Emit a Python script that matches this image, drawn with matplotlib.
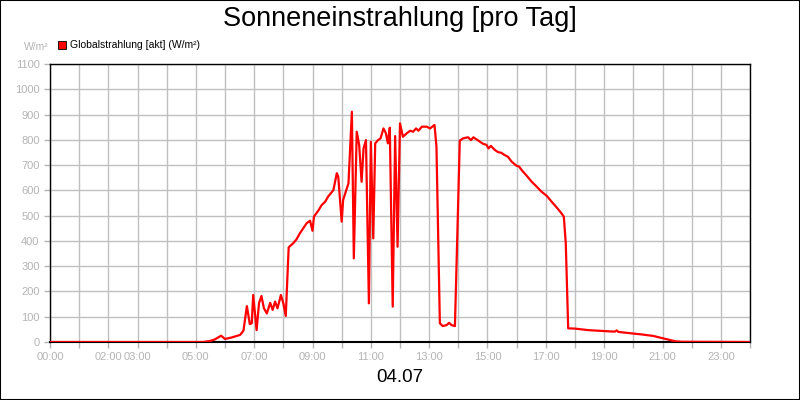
import numpy as np
import matplotlib
matplotlib.use('Agg')
import matplotlib.pyplot as plt
from matplotlib.patches import Rectangle

plt.rcParams['font.family'] = ['Liberation Sans', 'DejaVu Sans']

TITLE = 'Sonneneinstrahlung [pro Tag]'
DATE_LABEL = '04.07'
SERIES_LABEL = 'Globalstrahlung [akt] (W/m²)'
UNIT_LABEL = 'W/m²'

# time of day (HH:MM) and global radiation W/m2
times = ['00:00', '05:15', '05:29', '05:39', '05:52', '06:00', '06:14', '06:31', '06:38',
         '06:45', '06:51', '06:55', '06:58', '07:05', '07:10', '07:15', '07:20', '07:26',
         '07:33', '07:38', '07:43', '07:48', '07:55', '08:00', '08:05', '08:11', '08:20',
         '08:27', '08:34', '08:41', '08:48', '08:55', '09:00', '09:03', '09:12', '09:19',
         '09:26', '09:32', '09:43', '09:50', '09:53', '10:00', '10:03', '10:14', '10:21',
         '10:25', '10:31', '10:36', '10:41', '10:45', '10:50', '10:56', '11:00', '11:05',
         '11:09', '11:15', '11:20', '11:26', '11:31', '11:35', '11:39', '11:45', '11:50',
         '11:55', '12:00', '12:06', '12:14', '12:21', '12:27', '12:33', '12:38', '12:45',
         '12:55', '13:02', '13:11', '13:15', '13:22', '13:28', '13:36', '13:41', '13:46',
         '13:53', '14:03', '14:10', '14:20', '14:26', '14:31', '14:41', '14:51', '14:58',
         '15:02', '15:07', '15:15', '15:22', '15:28', '15:35', '15:42', '15:50', '16:00',
         '16:05', '16:10', '16:21', '16:31', '16:41', '16:51', '17:02', '17:12', '17:22',
         '17:31', '17:37', '17:41', '17:46', '18:00', '18:27', '19:02', '19:22', '19:26',
         '19:29', '19:57', '20:17', '20:41', '20:58', '21:15', '21:26', '21:39', '23:59']
radiation = [0, 0, 4, 10, 25, 12, 18, 28, 45,
             142, 71, 74, 186, 47, 154, 182, 134, 113,
             155, 127, 160, 133, 186, 153, 103, 375, 390,
             406, 430, 450, 470, 480, 440, 496, 520, 542,
             555, 575, 601, 668, 654, 476, 562, 628, 911,
             331, 832, 780, 634, 766, 799, 153, 792, 410,
             786, 799, 806, 845, 826, 786, 848, 140, 815,
             377, 865, 812, 826, 836, 832, 845, 836, 852,
             852, 845, 859, 773, 74, 63, 67, 76, 67,
             63, 797, 806, 810, 799, 810, 797, 784, 780,
             766, 776, 760, 751, 749, 740, 733, 713, 697,
             694, 681, 657, 634, 615, 595, 578, 555, 533,
             512, 496, 391, 54, 53, 47, 43, 41, 46,
             40, 34, 30, 24, 16, 8, 3, 1, 0]

x_labels = ['00:00', '02:00', '03:00', '05:00', '07:00', '09:00', '11:00',
            '13:00', '15:00', '17:00', '19:00', '21:00', '23:00']
y_ticks = list(range(0, 1101, 100))


def to_hours(t):
    h, m = t.split(':')
    return int(h) + int(m) / 60.0


hours = [to_hours(t) for t in times]

fig = plt.figure(figsize=(8, 4), dpi=100)
fig.patches.append(Rectangle((0, 0), 1, 1, transform=fig.transFigure,
                             fill=False, edgecolor='black', linewidth=1.5))
ax = fig.add_axes([0.0625, 0.145, 0.875, 0.695])

ax.plot(hours, radiation, color='#ff0000', linewidth=1.6, zorder=3)

ax.set_xlim(0, 24)
ax.set_ylim(0, 1100)
ax.set_xticks(range(0, 25))
label_hours = [to_hours(t) for t in x_labels]
ax.set_xticklabels([x_labels[label_hours.index(h)] if h in label_hours else '' for h in range(0, 25)])
ax.set_yticks(y_ticks)
ax.set_yticklabels([str(v) for v in y_ticks])
ax.grid(True, color='#c0c0c0', linewidth=1)
ax.set_axisbelow(True)
ax.tick_params(colors='#b4b4b4', labelsize=8, length=4, width=1)
for sp in ax.spines.values():
    sp.set_color('black')
    sp.set_linewidth(1)
ax.spines['bottom'].set_linewidth(1.5)

fig.text(0.5, 0.952, TITLE, ha='center', va='center', fontsize=19.5)
fig.text(0.5, 0.055, DATE_LABEL, ha='center', va='center', fontsize=13.5)
fig.text(0.03, 0.883, UNIT_LABEL, ha='left', va='center', fontsize=7.5, color='#b4b4b4')
fig.patches.append(Rectangle((0.0725, 0.8775), 0.01, 0.02, transform=fig.transFigure,
                             facecolor='#ff0000', edgecolor='black', linewidth=0.6))
fig.text(0.0875, 0.888, SERIES_LABEL, ha='left', va='center', fontsize=7.5)

fig.savefig('out.png', dpi=100)
